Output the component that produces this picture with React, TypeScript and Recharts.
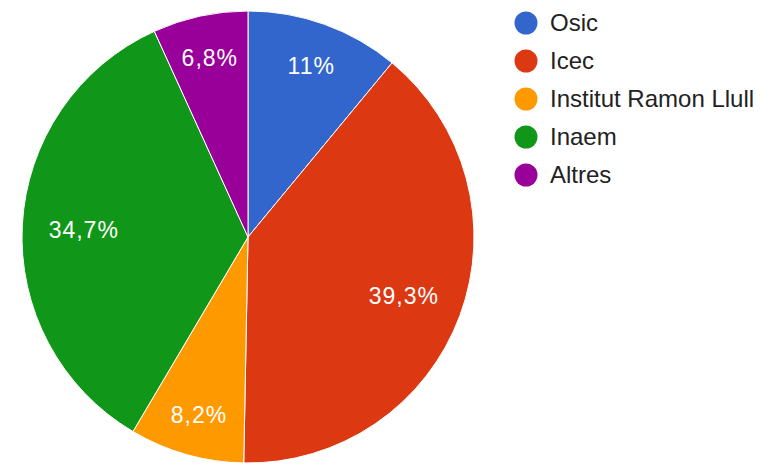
import { PieChart, Pie, Cell, Legend } from "recharts";

const names = ["Osic", "Icec", "Institut Ramon Llull", "Inaem", "Altres"];
const shares = [11, 39.3, 8.2, 34.7, 6.8];
const labels = ["11%", "39,3%", "8,2%", "34,7%", "6,8%"];
const colors = ["#3366cc", "#dc3912", "#ff9900", "#109618", "#990099"];

const data = names.map((name, i) => ({ name, value: shares[i], label: labels[i] }));

const RAD = Math.PI / 180;
const FONT = "Arial, 'Liberation Sans', sans-serif";
const LABEL_SIZE = 23;
const LABEL_SPACING = 1;

// rough text width, used to pull wide labels inward so they stay inside the slice
let ctx: CanvasRenderingContext2D | null = null;
function textWidth(s: string) {
  if (!ctx) ctx = document.createElement("canvas").getContext("2d");
  if (!ctx) return s.length * LABEL_SIZE * 0.6;
  ctx.font = `${LABEL_SIZE}px ${FONT}`;
  return ctx.measureText(s).width + s.length * LABEL_SPACING;
}

function renderLabel(props: any) {
  const { cx, cy, midAngle, outerRadius, index } = props;
  const ux = Math.cos(-midAngle * RAD);
  const uy = Math.sin(-midAngle * RAD);
  const a = Math.sign(ux) * textWidth(labels[index]) / 2;
  const b = Math.sign(uy) * 9;
  const D = outerRadius * 0.89;
  const p = ux * a + uy * b;
  const r = -p + Math.sqrt(p * p - (a * a + b * b - D * D));
  return (
    <text
      x={cx + r * ux + 1}
      y={cy + r * uy + 2}
      fill="#ffffff"
      fontSize={LABEL_SIZE}
      fontFamily={FONT}
      letterSpacing={LABEL_SPACING}
      textAnchor="middle"
      dominantBaseline="central"
    >
      {labels[index]}
    </text>
  );
}

function LegendBox() {
  return (
    <div style={{ fontFamily: FONT }}>
      {names.map((n, i) => (
        <div key={n} style={{ display: "flex", alignItems: "center", height: 38 }}>
          <svg width={24} height={24} style={{ marginRight: 12 }}>
            <circle cx={12} cy={12} r={11.5} fill={colors[i]} />
          </svg>
          <span style={{ fontSize: 24, color: "#222222" }}>{n}</span>
        </div>
      ))}
    </div>
  );
}

export default function App() {
  return (
    <div style={{ position: "absolute", left: 0, top: 0, width: 769, height: 464, background: "#fff" }}>
      <PieChart width={769} height={464} margin={{ top: 0, right: 0, bottom: 0, left: 0 }}>
        <Pie
          data={data}
          dataKey="value"
          nameKey="name"
          cx={248}
          cy={237}
          outerRadius={226}
          startAngle={90}
          endAngle={-270}
          stroke="#ffffff"
          strokeWidth={1}
          label={renderLabel}
          labelLine={false}
          isAnimationActive={false}
        >
          {data.map((d, i) => (
            <Cell key={d.name} fill={colors[i]} />
          ))}
        </Pie>
        <Legend
          layout="vertical"
          align="right"
          verticalAlign="top"
          wrapperStyle={{ left: 514, top: 4, right: "auto" }}
          content={() => <LegendBox />}
        />
      </PieChart>
    </div>
  );
}
